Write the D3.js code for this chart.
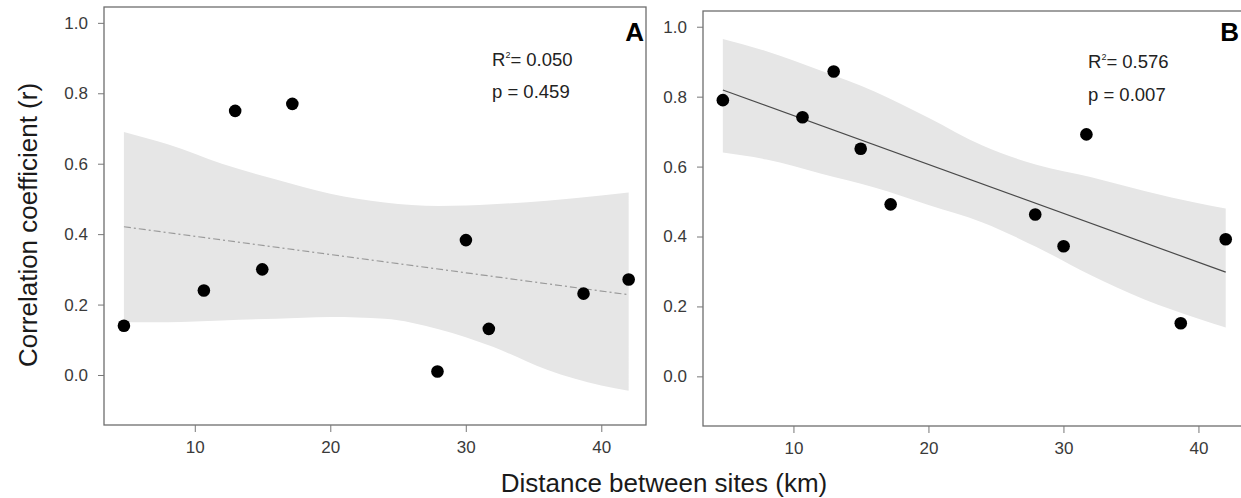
<!DOCTYPE html>
<html>
<head>
<meta charset="utf-8">
<script src="https://cdn.jsdelivr.net/npm/d3@7"></script>
<style>
  html, body { margin: 0; padding: 0; background: #fff; }
  svg { display: block; font-family: "Liberation Sans", Arial, Helvetica, sans-serif; }
</style>
</head>
<body>
<svg id="chart" width="1241" height="498"></svg>
<script>
// ---- data ----
const distances = [4.77, 10.67, 12.98, 14.98, 17.2, 27.91, 30.01, 31.7, 38.69, 42.02];
const corrA = [0.14, 0.24, 0.75, 0.30, 0.77, 0.01, 0.383, 0.131, 0.231, 0.271];
const corrB = [0.79, 0.741, 0.872, 0.651, 0.492, 0.463, 0.372, 0.692, 0.152, 0.392];
const fitX = [4.77, 42.02];
const fitA = [0.421, 0.228];
const fitB = [0.819, 0.298];
const bandX = [4.77, 8, 12, 16, 20, 24, 28, 32, 36, 40, 42.02];
const bandAUpper = [0.69, 0.655, 0.60, 0.555, 0.515, 0.49, 0.48, 0.485, 0.495, 0.51, 0.518];
const bandALower = [0.15, 0.15, 0.155, 0.16, 0.165, 0.16, 0.13, 0.08, 0.015, -0.03, -0.045];
const bandBUpper = [0.965, 0.93, 0.875, 0.815, 0.74, 0.66, 0.605, 0.57, 0.53, 0.495, 0.48];
const bandBLower = [0.64, 0.62, 0.58, 0.54, 0.49, 0.44, 0.37, 0.29, 0.22, 0.165, 0.14];
const xTicks = [10, 20, 30, 40];
const yTicks = [0.0, 0.2, 0.4, 0.6, 0.8, 1.0];
const panelLabels = ["A", "B"];
const r2Labels = ["0.050", "0.576"];
const pLabels = ["0.459", "0.007"];
const xTitle = "Distance between sites (km)";
const yTitle = "Correlation coefficient (r)";

// ---- layout ----
const svg = d3.select("#chart");
const xDomain = [3.3, 43.3];
const yDomain = [-0.142, 1.045];

const panels = [
  { box: [104, 646, 7, 425], values: corrA, fit: fitA, up: bandAUpper, lo: bandALower, dash: "7,3,2,3", lineColor: "#9a9a9a",
    txt: [492, 66, 98], lab: [644, 41] },
  { box: [703, 1243, 11, 426], values: corrB, fit: fitB, up: bandBUpper, lo: bandBLower, dash: null, lineColor: "#4a4a4a",
    txt: [1088, 68, 101], lab: [1239, 41] }
];

panels.forEach((p, i) => {
  const [x0, x1, y0, y1] = p.box;
  const x = d3.scaleLinear().domain(xDomain).range([x0, x1]);
  const y = d3.scaleLinear().domain(yDomain).range([y1, y0]);
  const g = svg.append("g");

  const clipId = "clip" + i;
  svg.append("clipPath").attr("id", clipId)
    .append("rect").attr("x", x0).attr("y", y0).attr("width", x1 - x0).attr("height", y1 - y0);

  const plot = g.append("g").attr("clip-path", `url(#${clipId})`);

  // confidence band
  const bandData = bandX.map((d, k) => ({ x: d, u: p.up[k], l: p.lo[k] }));
  plot.append("path")
    .datum(bandData)
    .attr("fill", "#e6e6e6")
    .attr("d", d3.area().x(d => x(d.x)).y0(d => y(d.l)).y1(d => y(d.u)).curve(d3.curveMonotoneX));

  // fit line
  const fitData = fitX.map((d, k) => ({ x: d, y: p.fit[k] }));
  const line = plot.append("path")
    .datum(fitData)
    .attr("fill", "none")
    .attr("stroke", p.lineColor)
    .attr("stroke-width", 1.2)
    .attr("d", d3.line().x(d => x(d.x)).y(d => y(d.y)));
  if (p.dash) line.attr("stroke-dasharray", p.dash);

  // points
  plot.selectAll("circle.pt")
    .data(distances.map((d, k) => ({ x: d, y: p.values[k] })))
    .join("circle")
    .attr("class", "pt")
    .attr("cx", d => x(d.x))
    .attr("cy", d => y(d.y))
    .attr("r", 6.3)
    .attr("fill", "#000");

  // box
  g.append("rect")
    .attr("x", x0).attr("y", y0)
    .attr("width", x1 - x0).attr("height", y1 - y0)
    .attr("fill", "none").attr("stroke", "#6e6e6e").attr("stroke-width", 1.3);

  // axes
  const yAxis = g.append("g").attr("transform", `translate(${x0},0)`)
    .call(d3.axisLeft(y).tickValues(yTicks).tickFormat(d3.format(".1f")).tickSize(6).tickPadding(10));
  const xAxis = g.append("g").attr("transform", `translate(0,${y1})`)
    .call(d3.axisBottom(x).tickValues(xTicks).tickFormat(d3.format("d")).tickSize(7).tickPadding(9));
  [yAxis, xAxis].forEach(a => {
    a.select(".domain").remove();
    a.selectAll(".tick line").attr("stroke", "#777");
    a.selectAll(".tick text").attr("fill", "#3a3a3a").attr("font-size", 17)
      .attr("font-family", "'Liberation Sans', Arial, Helvetica, sans-serif");
  });

  // stats text
  const t1 = g.append("text").attr("x", p.txt[0]).attr("y", p.txt[1])
    .attr("font-size", 18.5).attr("fill", "#222");
  t1.append("tspan").text("R");
  t1.append("tspan").text("2").attr("font-size", 9).attr("dy", -8);
  t1.append("tspan").text("= " + r2Labels[i]).attr("dy", 8);
  g.append("text").attr("x", p.txt[0]).attr("y", p.txt[2])
    .attr("font-size", 18.5).attr("fill", "#222").text("p = " + pLabels[i]);

  // panel label
  g.append("text").attr("x", p.lab[0]).attr("y", p.lab[1])
    .attr("text-anchor", "end").attr("font-size", 26).attr("font-weight", "bold")
    .attr("fill", "#000").text(panelLabels[i]);
});

// axis titles
svg.append("text")
  .attr("x", 664).attr("y", 492)
  .attr("text-anchor", "middle").attr("font-size", 26).attr("fill", "#1a1a1a")
  .text(xTitle);
svg.append("text")
  .attr("transform", "translate(37,225) rotate(-90)")
  .attr("text-anchor", "middle").attr("font-size", 26).attr("fill", "#1a1a1a")
  .text(yTitle);
</script>
</body>
</html>
